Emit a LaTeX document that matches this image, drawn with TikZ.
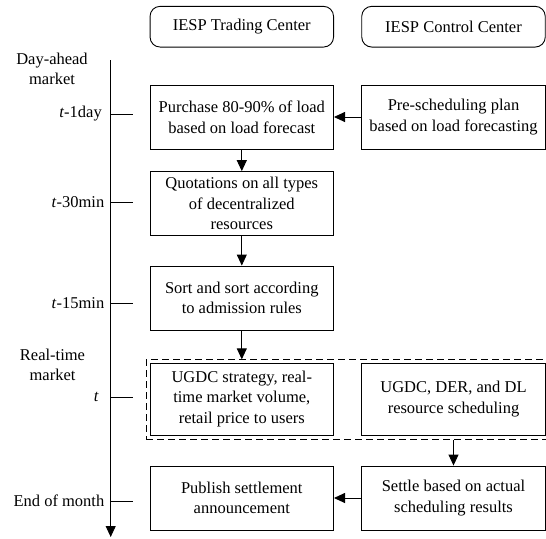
\documentclass[tikz,border=0pt]{standalone}
\usepackage{fontspec}
\setmainfont{Liberation Serif}
\usetikzlibrary{arrows.meta}
\begin{document}
\begin{tikzpicture}[x=1pt,y=-1pt,
  every node/.style={font=\fontsize{16.5}{20.6}\selectfont, inner sep=0pt},
  box/.style={draw, line width=0.9pt, minimum width=183.5pt, minimum height=64pt, align=center},
  head/.style={box, rounded corners=10pt, minimum height=40.7pt},
  arr/.style={-{Triangle[length=11pt,width=10pt]}, line width=0.9pt},
  tick/.style={line width=0.9pt},
  lab/.style={anchor=east, align=center},
]
\useasboundingbox (0,0) rectangle (546,538);
\clip (0,0) rectangle (546,538);

% headers
\node[head] (tc) at (241.8,26.7) {IESP Trading Center};
\node[head] (cc) at (453.5,26.7) {IESP Control Center};

% boxes
\node[box] (buy) at (241.8,117) {Purchase 80-90\% of load\\based on load forecast};
\node[box] (pre) at (453.5,117) {Pre-scheduling plan\\based on load forecasting};
\node[box] (quo) at (241.8,203.6) {Quotations on all types\\of decentralized\\resources};
\node[box] (sort) at (241.8,298) {Sort and sort according\\to admission rules};
\node[box, minimum height=72pt] (ugs) at (241.8,399) {UGDC strategy, real-\\time market volume,\\retail price to users};
\node[box, minimum height=72pt] (ugd) at (453.5,399) {UGDC, DER, and DL\\resource scheduling};
\node[box] (set) at (453.5,498) {Settle based on actual\\scheduling results};
\node[box] (pub) at (241.8,498) {Publish settlement\\announcement};
\node[draw, line width=0.9pt, dash pattern=on 7pt off 4pt, minimum width=406pt, minimum height=79.6pt] (rt) at (349,399.6) {};

% connectors
\draw[arr] (pre) -- (buy);
\draw[arr] (buy) -- (quo);
\draw[arr] (quo) -- (sort);
\draw[arr] (sort.south) -- (sort.south |- rt.north);
\draw[arr] (ugd.south |- rt.south) -- (set.north);
\draw[arr] (set) -- (pub);

% time axis
\coordinate (atop) at (110.7,60);
\coordinate (abot) at (110.7,537);
\draw[arr] (atop) -- (abot);

\coordinate (k1a) at (110.7,114);   \coordinate (k1b) at (133,114);
\coordinate (k2a) at (110.7,202.4); \coordinate (k2b) at (133,202.4);
\coordinate (k3a) at (110.7,303.4); \coordinate (k3b) at (133,303.4);
\coordinate (k4a) at (110.7,397.3); \coordinate (k4b) at (133,397.3);
\coordinate (k5a) at (110.7,501);   \coordinate (k5b) at (133,501);
\draw[tick] (k1a) -- (k1b);
\draw[tick] (k2a) -- (k2b);
\draw[tick] (k3a) -- (k3b);
\draw[tick] (k4a) -- (k4b);
\draw[tick] (k5a) -- (k5b);

% labels
\node[align=center] (dam) at (52,69) {Day-ahead\\market};
\node[align=center] (rtm) at (52.5,365) {Real-time\\market};
\node[lab] (l1) at (102,114) {\textit{t}-1day};
\node[lab] (l2) at (104.5,202.4) {\textit{t}-30min};
\node[lab] (l3) at (104.5,303.4) {\textit{t}-15min};
\node[lab] (l4) at (99,397.3) {\textit{t}};
\node[lab] (l5) at (104.5,501) {End of month};
\end{tikzpicture}
\end{document}
